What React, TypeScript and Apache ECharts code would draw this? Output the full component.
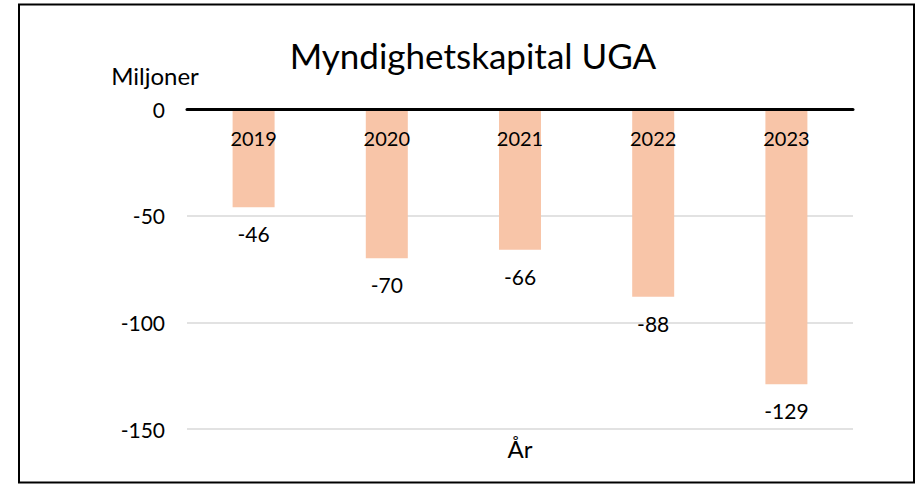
import React, { useEffect, useRef } from "react";
import * as echarts from "echarts";

const categories = ["2019", "2020", "2021", "2022", "2023"];
const values = [-46, -70, -66, -88, -129];
const yTicks = { min: -150, max: 0, interval: 50 };
const titleText = "Myndighetskapital UGA";
const yName = "Miljoner";
const xName = "År";

const FONT = "Lato, 'Open Sans', sans-serif";

export default function App() {
  const ref = useRef<HTMLDivElement>(null);
  useEffect(() => {
    if (!ref.current) return;
    const chart = echarts.init(ref.current, null, { renderer: "svg" });
    chart.setOption({
      animation: false,
      backgroundColor: "#ffffff",
      textStyle: { fontFamily: FONT },
      title: {
        text: titleText,
        left: 468,
        top: 32,
        textAlign: "center",
        textStyle: { fontFamily: FONT, fontSize: 35, fontWeight: "normal", color: "#000" },
      },
      grid: { left: 187, right: 67, top: 109, bottom: 56 },
      xAxis: {
        type: "category",
        position: "top",
        data: categories,
        axisLine: { onZero: false, lineStyle: { color: "#000", width: 3 } },
        axisTick: { show: false },
        axisLabel: { inside: true, margin: 19, fontSize: 20, color: "#000", fontFamily: FONT },
        z: 10,
      },
      yAxis: {
        type: "value",
        min: yTicks.min,
        max: yTicks.max,
        interval: yTicks.interval,
        axisLine: { show: false },
        axisTick: { show: false },
        axisLabel: { margin: 22, fontSize: 21, color: "#000", fontFamily: FONT },
        splitLine: { lineStyle: { color: "#d9d9d9", width: 1.5 } },
      },
      series: [
        {
          type: "bar",
          data: values,
          barWidth: 42,
          itemStyle: { color: "#F8C5A8" },
          label: {
            show: true,
            position: "bottom",
            distance: 16,
            fontSize: 21,
            color: "#000",
            fontFamily: FONT,
          },
        },
      ],
      graphic: [
        {
          type: "rect",
          shape: { x: 19, y: 4.5, width: 895, height: 478 },
          style: { fill: "none", stroke: "#000", lineWidth: 2 },
          silent: true,
        },
        {
          type: "text",
          x: 155,
          y: 75,
          style: {
            text: yName,
            fontSize: 24,
            fill: "#000",
            fontFamily: FONT,
            textAlign: "center",
            textVerticalAlign: "middle",
          },
        },
        {
          type: "text",
          x: 520,
          y: 448,
          style: {
            text: xName,
            fontSize: 24,
            fill: "#000",
            fontFamily: FONT,
            textAlign: "center",
            textVerticalAlign: "middle",
          },
        },
      ],
    });
    return () => chart.dispose();
  }, []);
  return (
    <div
      ref={ref}
      style={{ position: "absolute", left: 0, top: 0, width: 920, height: 485 }}
    />
  );
}
